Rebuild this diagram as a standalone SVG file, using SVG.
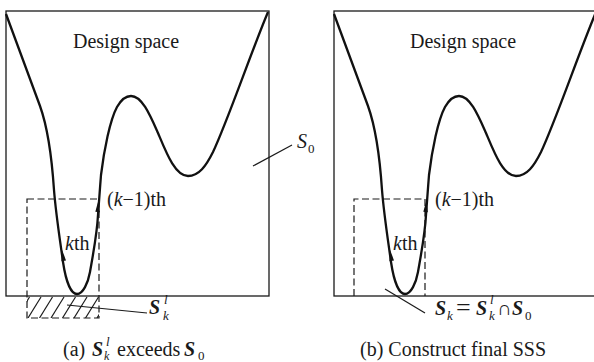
<svg xmlns="http://www.w3.org/2000/svg" width="594" height="362" viewBox="0 0 594 362">
<style>
text{font-family:"Liberation Serif","Times New Roman","DejaVu Serif",serif;font-size:20px;fill:#1a1a1a}
.it{font-style:italic}
.bi{font-style:italic;font-weight:bold}
.sub{font-size:13px;font-style:italic}
.subr{font-size:13px}
.box{fill:none;stroke:#1a1a1a;stroke-width:1.3}
.curve{fill:none;stroke:#111;stroke-width:2.3;stroke-linejoin:round}
.dash{fill:none;stroke:#1a1a1a;stroke-width:1.2;stroke-dasharray:7 3.5}
.lead{fill:none;stroke:#1a1a1a;stroke-width:1.2}
.hatch{stroke:#1a1a1a;stroke-width:1.2}
.ah{fill:#111}
</style>
<defs>
<path id="valley" d="M6,14 L40,106 C45,120 51,145 54,190 C56,215 60,240 63,262 C66,282 71,294 77,294 C83,294 88,283 90,272 C92,260 97,235 98,215 C99,200 100,188 101,175 C104,150 110,120 117,107 C121,100 126,96 131,96 C142,96 150,115 158,133 C166,152 175,176 188,176 C199,176 206,166 213,152 C228,120 250,55 268,12"/>
<clipPath id="hclip"><rect x="27" y="296" width="72" height="22"/></clipPath>
</defs>

<g id="panel-a">
  <rect id="S0-box-a" class="box" x="6" y="11" width="263" height="285"/>
  <text x="73" y="48">Design space</text>
  <use href="#valley" class="curve"/>
  <g id="hatch-a" clip-path="url(#hclip)">
    <line class="hatch" x1="5" y1="318" x2="18" y2="297"/>
    <line class="hatch" x1="16.5" y1="318" x2="29.5" y2="297"/>
    <line class="hatch" x1="28" y1="318" x2="41" y2="297"/>
    <line class="hatch" x1="39.5" y1="318" x2="52.5" y2="297"/>
    <line class="hatch" x1="51" y1="318" x2="64" y2="297"/>
    <line class="hatch" x1="62.5" y1="318" x2="75.5" y2="297"/>
    <line class="hatch" x1="74" y1="318" x2="87" y2="297"/>
    <line class="hatch" x1="85.5" y1="318" x2="98.5" y2="297"/>
    <line class="hatch" x1="97" y1="318" x2="110" y2="297"/>
  </g>
  <rect id="Skl-box-a" class="dash" x="27" y="199" width="72" height="119"/>
  <polygon class="ah" points="62.2,250 66,260.6 61.4,261.2"/>
  <polygon class="ah" points="98.3,201 99.9,212.2 95.3,211.8"/>
  <text x="107" y="206">(<tspan class="it">k</tspan>−1)th</text>
  <text x="65" y="250"><tspan class="it">k</tspan>th</text>
  <g id="S0-label">
    <line class="lead" x1="253" y1="166" x2="292" y2="145"/>
    <text x="297" y="148" class="it">S</text>
    <text x="308" y="153" class="subr">0</text>
  </g>
  <g id="Skl-label">
    <line class="lead" x1="67" y1="305" x2="147" y2="313"/>
    <text x="149" y="314" class="bi">S</text>
    <text x="164" y="304" class="sub">l</text>
    <text x="163" y="320" class="sub">k</text>
  </g>
  <g id="caption-a">
    <text x="63" y="356">(a)</text>
    <text x="92" y="356" class="bi">S</text>
    <text x="106" y="346" class="sub">l</text>
    <text x="104" y="360" class="sub" style="font-size:12px">k</text>
    <text x="117" y="356">exceeds</text>
    <text x="184" y="356" class="bi">S</text>
    <text x="198" y="360" class="subr">0</text>
  </g>
</g>

<g id="panel-b">
  <rect id="S0-box-b" class="box" x="334" y="11" width="280" height="285"/>
  <text x="410" y="48">Design space</text>
  <use href="#valley" class="curve" transform="translate(328,0)"/>
  <path id="Skl-box-b" class="dash" d="M354,296 V199 H425 V296"/>
  <polygon class="ah" points="390.2,250 394,260.6 389.4,261.2"/>
  <polygon class="ah" points="426.3,201 427.9,212.2 423.3,211.8"/>
  <text x="435" y="206">(<tspan class="it">k</tspan>−1)th</text>
  <text x="393" y="250"><tspan class="it">k</tspan>th</text>
  <g id="Sk-label">
    <line class="lead" x1="385" y1="289" x2="425" y2="313"/>
    <text x="435" y="315" class="bi">S</text>
    <text x="447" y="320" class="sub">k</text>
    <text x="456" y="316" style="font-size:26px">=</text>
    <text x="476" y="315" class="bi">S</text>
    <text x="490" y="304" class="sub">l</text>
    <text x="489" y="320" class="sub">k</text>
    <text x="497" y="315">∩</text>
    <text x="512" y="315" class="bi">S</text>
    <text x="525" y="320" class="subr">0</text>
  </g>
  <g id="caption-b">
    <text x="360" y="356">(b) Construct final SSS</text>
  </g>
</g>
</svg>
